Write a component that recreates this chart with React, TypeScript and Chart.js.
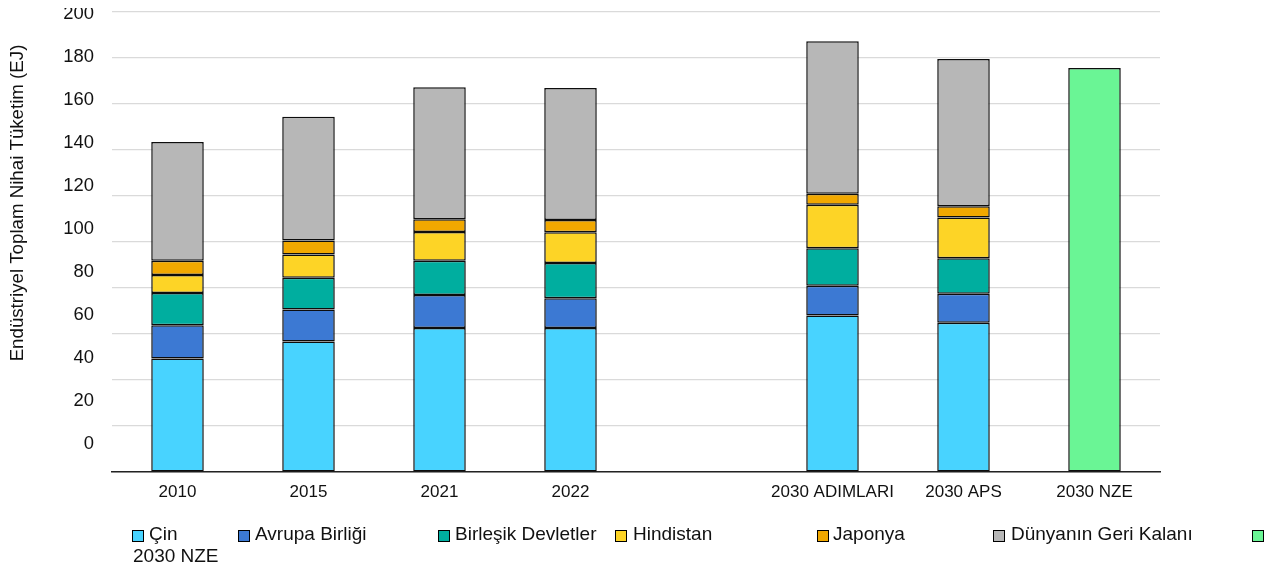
import React, { useEffect, useRef } from "react";
import { Chart, registerables } from "chart.js";

Chart.register(...registerables);

// Categories on the x axis (the empty slot separates history from 2030 scenarios)
const categories = ["2010", "2015", "2021", "2022", "", "2030 ADIMLARI", "2030 APS", "2030 NZE"];

// Industrial total final consumption by region, EJ
const china = [49.4, 56.7, 62.6, 62.6, null, 68.0, 64.9, null];
const europeanUnion = [14.4, 13.9, 14.4, 12.9, null, 13.0, 12.6, null];
const unitedStates = [14.0, 13.9, 14.9, 15.4, null, 16.3, 15.4, null];
const india = [7.9, 10.1, 12.4, 13.3, null, 18.9, 17.7, null];
const japan = [6.2, 6.0, 5.6, 5.4, null, 4.8, 4.9, null];
const restOfWorld = [51.6, 53.9, 57.4, 57.4, null, 66.3, 64.1, null];
const netZero2030 = [null, null, null, null, null, null, null, 175.7];

const seriesNames = [
  "Çin",
  "Avrupa Birliği",
  "Birleşik Devletler",
  "Hindistan",
  "Japonya",
  "Dünyanın Geri Kalanı",
  "2030 NZE",
];
const seriesColors = ["#48D3FF", "#3C79D3", "#00AE9F", "#FDD426", "#F1A800", "#B7B7B7", "#6AF595"];
const seriesValues = [china, europeanUnion, unitedStates, india, japan, restOfWorld, netZero2030];

const yTickValues = [0, 20, 40, 60, 80, 100, 120, 140, 160, 180, 200];
const yAxisTitle = "Endüstriyel Toplam Nihai Tüketim (EJ)";

const FONT = "'Liberation Sans', Arial, sans-serif";

// Legend entries laid out in fixed columns; the last label wraps onto a second row
const legendSlots = [
  { box: 132, text: 149, textRow: 0 },
  { box: 238, text: 255, textRow: 0 },
  { box: 438, text: 455, textRow: 0 },
  { box: 615, text: 633, textRow: 0 },
  { box: 817, text: 833, textRow: 0 },
  { box: 993, text: 1011, textRow: 0 },
  { box: 1252, text: 133, textRow: 1 },
];

const legendPlugin = {
  id: "columnLegend",
  afterDraw(chart: any) {
    const ctx = chart.ctx;
    const rowY = [535, 557];
    ctx.save();
    ctx.font = `19px ${FONT}`;
    ctx.textBaseline = "middle";
    ctx.textAlign = "left";
    chart.data.datasets.forEach((ds: any, i: number) => {
      const slot = legendSlots[i];
      if (!slot) return;
      ctx.fillStyle = ds.backgroundColor;
      ctx.fillRect(slot.box, 530, 12, 12);
      ctx.strokeStyle = "#000";
      ctx.lineWidth = 1;
      ctx.strokeRect(slot.box + 0.5, 530.5, 11, 11);
      ctx.fillStyle = "#111";
      ctx.fillText(ds.label, slot.text, rowY[slot.textRow]);
    });
    ctx.restore();
  },
};

const axisTitlePlugin = {
  id: "axisTitle",
  afterDraw(chart: any) {
    const ctx = chart.ctx;
    ctx.save();
    ctx.translate(18, 203);
    ctx.rotate(-Math.PI / 2);
    ctx.font = `18.7px ${FONT}`;
    ctx.fillStyle = "#111";
    ctx.textAlign = "center";
    ctx.textBaseline = "middle";
    ctx.fillText(yAxisTitle, 0, 0);
    ctx.restore();
  },
};

export default function App() {
  const canvasRef = useRef<HTMLCanvasElement | null>(null);

  useEffect(() => {
    const canvas = canvasRef.current;
    if (!canvas) return;

    const datasets = seriesNames.map((name, i) => ({
      label: name,
      data: seriesValues[i],
      xAxisID: "x",
      yAxisID: "y",
      backgroundColor: seriesColors[i],
      borderColor: "#0d0d0d",
      borderWidth: 1.5,
      borderSkipped: false as const,
      categoryPercentage: 1,
      barPercentage: 0.401,
    }));

    const chart = new Chart(canvas, {
      type: "bar",
      data: { labels: categories, datasets },
      plugins: [legendPlugin, axisTitlePlugin],
      options: {
        animation: false,
        responsive: false,
        layout: { padding: { top: 12, right: 118, bottom: 0, left: 0 } },
        plugins: {
          legend: { display: false },
          tooltip: { enabled: false },
        },
        scales: {
          x: {
            stacked: true,
            grid: { display: false, drawTicks: false },
            border: { display: true, color: "#222", width: 1.5 },
            ticks: {
              color: "#111",
              font: { family: FONT, size: 17 },
              padding: 10,
              maxRotation: 0,
              autoSkip: false,
            },
            afterFit(scale: any) {
              scale.height = 100;
            },
          },
          y: {
            stacked: true,
            position: "left",
            min: 0,
            max: 200,
            grid: { color: "#dadada", lineWidth: 1.2, drawTicks: false },
            border: { display: false },
            ticks: { display: false, stepSize: 20 },
            afterFit(scale: any) {
              scale.width = 0;
              scale.paddingTop = 0;
              scale.paddingBottom = 0;
            },
          },
          // Tick labels for the value axis, placed on their own scale
          yLabels: {
            type: "linear",
            position: "left",
            min: -13.01,
            max: 200.69,
            grid: { display: false, drawTicks: false },
            border: { display: false },
            ticks: {
              color: "#111",
              font: { family: FONT, size: 18.4 },
              padding: 18,
            },
            afterBuildTicks(axis: any) {
              axis.ticks = yTickValues.map((v) => ({ value: v }));
            },
            afterFit(scale: any) {
              scale.width = 112;
              scale.paddingTop = 0;
              scale.paddingBottom = 0;
            },
          },
        },
      },
    } as any);

    return () => chart.destroy();
  }, []);

  return (
    <div style={{ position: "relative", width: 1278, height: 572, margin: -8 }}>
      <canvas ref={canvasRef} width={1278} height={572} style={{ display: "block" }} />
    </div>
  );
}
